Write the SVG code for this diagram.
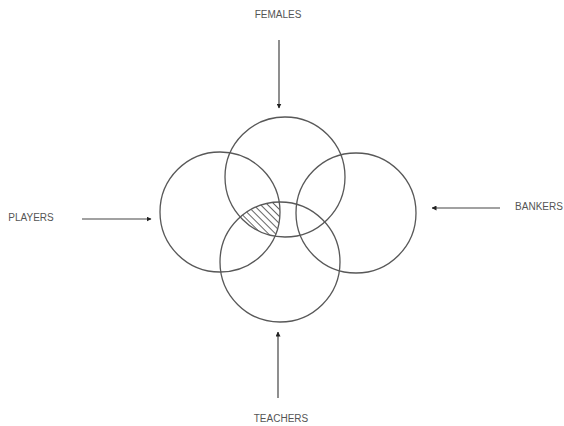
<svg xmlns="http://www.w3.org/2000/svg" width="564" height="426" viewBox="0 0 564 426">
<style>
.c{fill:none;stroke:#585858;stroke-width:1.3}
.a{stroke:#444;stroke-width:1.2;fill:none}
.t{font-family:"Liberation Sans",Arial,sans-serif;font-size:10px;fill:#555;text-anchor:middle}
</style>
<defs>
<marker id="ah" viewBox="0 0 10 10" refX="9" refY="5" markerWidth="5" markerHeight="5" orient="auto" markerUnits="userSpaceOnUse">
<path d="M0,0 L10,5 L0,10 z" fill="#222"/>
</marker>
<pattern id="hatch" patternUnits="userSpaceOnUse" width="5" height="5" patternTransform="rotate(45)">
<line x1="0" y1="0.5" x2="5" y2="0.5" stroke="#666" stroke-width="1"/>
</pattern>
<clipPath id="cl"><circle cx="220" cy="212" r="60"/></clipPath>
<clipPath id="ct"><circle cx="285" cy="177" r="60"/></clipPath>
<clipPath id="cb"><circle cx="280" cy="262" r="60"/></clipPath>
</defs>
<rect width="564" height="426" fill="#fff"/>
<g id="hatched">
<g clip-path="url(#cl)"><g clip-path="url(#ct)"><rect x="200" y="180" width="100" height="80" fill="url(#hatch)" clip-path="url(#cb)"/></g></g>
</g>
<g id="females"><circle class="c" cx="285" cy="177" r="60"/><text class="t" x="278" y="18">FEMALES</text></g>
<g id="players"><circle class="c" cx="220" cy="212" r="60"/><text class="t" x="31" y="221">PLAYERS</text></g>
<g id="bankers"><circle class="c" cx="356" cy="213" r="60"/><text class="t" x="539" y="210">BANKERS</text></g>
<g id="teachers"><circle class="c" cx="280" cy="262" r="60"/><text class="t" x="281" y="422">TEACHERS</text></g>
<g id="connectors">
<line class="a" x1="279" y1="40" x2="279" y2="108" marker-end="url(#ah)"/>
<line class="a" x1="82" y1="219" x2="151" y2="219" marker-end="url(#ah)"/>
<line class="a" x1="500" y1="208" x2="432" y2="208" marker-end="url(#ah)"/>
<line class="a" x1="278" y1="398" x2="278" y2="332" marker-end="url(#ah)"/>
</g>
</svg>
